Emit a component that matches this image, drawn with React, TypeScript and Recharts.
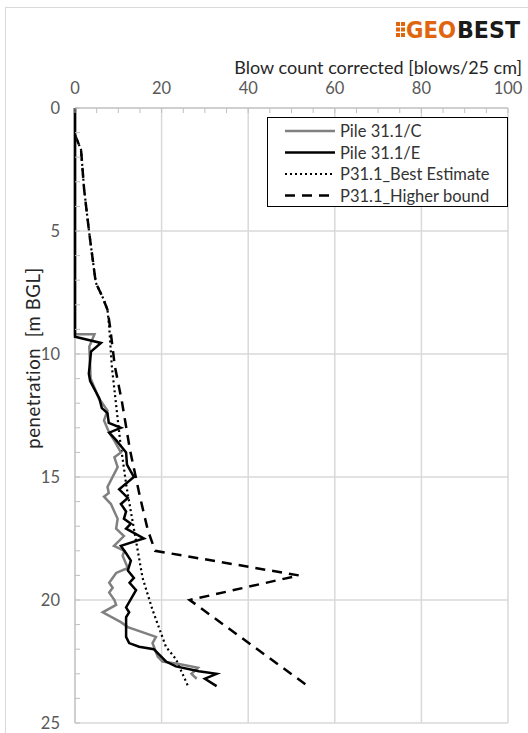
import React from "react";
import { ScatterChart, Scatter, XAxis, YAxis, CartesianGrid } from "recharts";

// blow count [blows/25 cm], penetration [m BGL]
const pileC: [number, number][] = [
  [0, 0], [0, 9.2], [4.5, 9.2], [3.3, 9.7], [3.5, 10.5], [3.6, 11.0], [5.5, 11.8],
  [7.5, 12.3], [6.7, 12.7], [7.9, 13.2], [9.0, 13.5], [10.6, 14.0], [9.1, 14.2],
  [9.85, 14.6], [7.5, 15.4], [7.8, 15.65], [6.7, 15.8], [8.3, 16.1], [9.85, 16.7],
  [9.5, 17.1], [11.3, 17.4], [9.0, 17.8], [11.4, 18.0], [11.0, 18.2], [12.2, 18.7],
  [9.5, 18.9], [7.9, 19.3], [8.7, 19.5], [7.9, 19.7], [9.1, 20.0], [9.5, 20.2],
  [6.4, 20.5], [10.6, 20.9], [12.2, 21.1], [18.7, 21.5], [17.9, 21.75], [19.1, 22.3],
  [20.2, 22.5], [24.0, 22.6], [28.4, 22.75], [26.9, 23.0], [28.1, 23.2],
];

const pileE: [number, number][] = [
  [0, 0], [0, 9.3], [6.0, 9.55], [3.7, 9.9], [3.2, 10.8], [3.5, 11.1], [5.6, 11.8],
  [6.2, 12.2], [7.5, 12.4], [7.8, 12.8], [10.6, 13.0], [7.9, 13.2], [9.5, 13.5],
  [11.8, 14.0], [12.0, 14.5], [13.6, 15.0], [10.2, 15.5], [12.2, 15.85], [10.6, 16.1],
  [11.8, 16.4], [11.3, 16.7], [12.9, 16.9], [11.8, 17.1], [15.9, 17.5], [10.6, 17.8],
  [11.8, 18.1], [12.9, 18.4], [12.2, 18.8], [13.6, 19.1], [12.6, 19.3], [14.1, 19.6],
  [11.8, 20.3], [12.5, 20.5], [11.8, 20.7], [11.8, 21.5], [12.5, 21.75], [14.8, 21.9],
  [18.2, 22.0], [21.0, 22.5], [23.3, 22.7], [28.6, 22.9], [32.7, 23.0], [30.0, 23.2],
  [32.7, 23.5],
];

const bestEstimate: [number, number][] = [
  [0, 1.1], [1.4, 1.7], [2.1, 3.3], [3.3, 5.1], [4.8, 7.1], [6.4, 7.7], [7.5, 8.2],
  [7.9, 8.9], [8.5, 10.5], [10.4, 13.5], [11.9, 15.4], [14.1, 17.6], [15.6, 19.1],
  [17.9, 20.4], [21.0, 21.9], [23.3, 22.4], [26.1, 23.5],
];

const higherBound: [number, number][] = [
  [0, 1.1], [1.4, 1.7], [2.1, 3.3], [3.3, 5.1], [4.8, 7.1], [6.4, 7.7], [7.5, 8.2],
  [8.1, 8.9], [9.2, 10.5], [10.8, 11.9], [12.7, 13.9], [15.0, 15.8], [16.8, 17.15],
  [18.5, 18.0], [51.7, 19.0], [26.5, 20.0], [53.8, 23.5],
];

const xTicks = [0, 5, 10, 15, 20, 25, 30, 35, 40, 45, 50, 55, 60, 65, 70, 75, 80, 85, 90, 95, 100];
const xLabelTicks = [0, 20, 40, 60, 80, 100];
const yTicks = [0, 1, 2, 3, 4, 5, 6, 7, 8, 9, 10, 11, 12, 13, 14, 15, 16, 17, 18, 19, 20, 21, 22, 23, 24, 25];
const yLabelTicks = [0, 5, 10, 15, 20, 25];

const series = [
  { name: "P31.1_Higher bound", data: higherBound, stroke: "#000000", width: 2.5, dash: "10 7" },
  { name: "P31.1_Best Estimate", data: bestEstimate, stroke: "#000000", width: 2.2, dash: "2 3" },
  { name: "Pile 31.1/C", data: pileC, stroke: "#808080", width: 2.5, dash: undefined },
  { name: "Pile 31.1/E", data: pileE, stroke: "#000000", width: 2.5, dash: undefined },
];
const legendOrder = ["Pile 31.1/C", "Pile 31.1/E", "P31.1_Best Estimate", "P31.1_Higher bound"];

const W = 528;
const H = 733;
const PLOT = { left: 75, top: 108, right: 508, bottom: 723 };
const FONT = "Lato, 'Open Sans', sans-serif";
const AXIS_GRAY = "#BFBFBF";
const GRID_GRAY = "#D9D9D9";
const LABEL_GRAY = "#595959";
const ORANGE = "#E0650F";

const toPoints = (rows: [number, number][]) => rows.map(([x, y]) => ({ x, y }));

const XTick = (props: any) => {
  const { x, payload } = props;
  const v = payload.value;
  return (
    <g>
      <line x1={x} x2={x} y1={PLOT.top} y2={PLOT.top + 5} stroke={AXIS_GRAY} strokeWidth={1} />
      {xLabelTicks.includes(v) && (
        <text x={x} y={88} textAnchor="middle" dominantBaseline="central" fill={LABEL_GRAY}
          fontSize={16.5} fontFamily={FONT}>
          {v}
        </text>
      )}
    </g>
  );
};

const YTick = (props: any) => {
  const { y, payload } = props;
  const v = payload.value;
  return (
    <g>
      <line x1={PLOT.left} x2={PLOT.left + 5} y1={y} y2={y} stroke={AXIS_GRAY} strokeWidth={1} />
      {yLabelTicks.includes(v) && (
        <text x={60} y={y} textAnchor="end" dominantBaseline="central" fill={LABEL_GRAY}
          fontSize={16.5} fontFamily={FONT}>
          {v}
        </text>
      )}
    </g>
  );
};

const LegendBox = () => (
  <div
    style={{
      position: "absolute", left: 267, top: 117, width: 241, height: 90,
      boxSizing: "border-box", border: "1.5px solid #000", background: "#fff",
    }}
  >
    <svg width={238} height={87}>
      {legendOrder.map((name, i) => {
        const s = series.find((d) => d.name === name)!;
        const cy = 13 + i * 21.5;
        return (
          <g key={name}>
            <line x1={17} x2={67} y1={cy} y2={cy} stroke={s.stroke} strokeWidth={s.width}
              strokeDasharray={s.dash} />
            <text x={72} y={cy} dominantBaseline="central" fontSize={16.5} fontFamily={FONT}
              fill="#333333">
              {name}
            </text>
          </g>
        );
      })}
    </svg>
  </div>
);

const Titles = () => (
  <svg width={W} height={H} style={{ position: "absolute", left: 0, top: 0, pointerEvents: "none" }}>
    {/* logo */}
    <g fill={ORANGE}>
      <rect x={396} y={22} width={4} height={4} />
      <rect x={401} y={22} width={4} height={4} />
      <rect x={396} y={27.5} width={4} height={4} />
      <rect x={401} y={27.5} width={4} height={4} />
      <rect x={396} y={33} width={4} height={4} />
      <rect x={401} y={33} width={4} height={4} />
    </g>
    <text x={406} y={37.5} fontSize={23} fontWeight={900} fontFamily="'DejaVu Sans', sans-serif"
      fill={ORANGE} textLength={50} lengthAdjust="spacingAndGlyphs">
      GEO
    </text>
    <text x={457} y={37.5} fontSize={23} fontWeight={900} fontFamily="'DejaVu Sans', sans-serif"
      fill="#1A1A1A" textLength={63} lengthAdjust="spacingAndGlyphs">
      BEST
    </text>
    <text x={522} y={67} textAnchor="end" dominantBaseline="central" fontSize={18}
      fontFamily={FONT} fill="#262626" style={{ whiteSpace: "pre" }}>
      Blow count corrected [blows/25 cm]
    </text>
    <text x={0} y={0} transform="translate(33 358) rotate(-90)" textAnchor="middle"
      dominantBaseline="central" fontSize={18.5} fontFamily={FONT} fill="#262626"
      letterSpacing={0.6} style={{ whiteSpace: "pre" }}>
      penetration  [m BGL]
    </text>
  </svg>
);

export default function App() {
  return (
    <div style={{ position: "absolute", left: 0, top: 0, width: W, height: H, overflow: "hidden", background: "#fff" }}>
      <div
        style={{
          position: "absolute", left: 5, top: 7, width: 560, height: 760,
          border: `1.5px solid ${GRID_GRAY}`,
        }}
      />
      <ScatterChart
        width={W}
        height={H}
        margin={{ top: PLOT.top - 30, left: PLOT.left - 40, right: W - PLOT.right, bottom: H - PLOT.bottom }}
        style={{ position: "absolute", left: 0, top: 0 }}
      >
        <CartesianGrid
          stroke={GRID_GRAY}
          strokeWidth={1.5}
          verticalValues={[20, 40, 60, 80, 100]}
          horizontalValues={[5, 10, 15, 20, 25]}
        />
        <XAxis
          type="number"
          dataKey="x"
          orientation="top"
          domain={[0, 100]}
          ticks={xTicks}
          interval={0}
          height={30}
          axisLine={{ stroke: AXIS_GRAY, strokeWidth: 1.5 }}
          tickLine={false}
          tick={XTick}
        />
        <YAxis
          type="number"
          dataKey="y"
          reversed
          domain={[0, 25]}
          ticks={yTicks}
          interval={0}
          width={40}
          axisLine={{ stroke: AXIS_GRAY, strokeWidth: 1.5 }}
          tickLine={false}
          tick={YTick}
        />
        {series.map((s) => (
          <Scatter
            key={s.name}
            name={s.name}
            data={toPoints(s.data)}
            fill={s.stroke}
            line={{ stroke: s.stroke, strokeWidth: s.width, strokeDasharray: s.dash }}
            lineType="joint"
            shape={() => <g />}
            isAnimationActive={false}
          />
        ))}
      </ScatterChart>
      <Titles />
      <LegendBox />
    </div>
  );
}
